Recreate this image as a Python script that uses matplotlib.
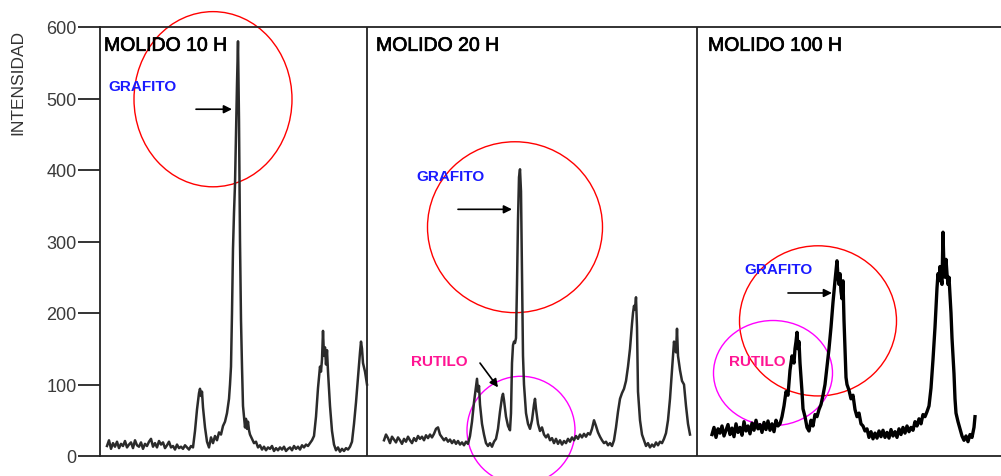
import matplotlib.pyplot as plt
from matplotlib.patches import Ellipse
import matplotlib.patheffects as pe

plt.rcParams['font.family'] = ['Liberation Sans', 'DejaVu Sans']

# diffractograms, scan position (arbitrary units along the strip) vs intensity
pos_10h = [7, 9, 11, 13, 15, 17, 19, 21, 23, 25, 27, 29, 31, 33, 35, 37, 39, 41, 43, 45,
           47, 49, 51, 53, 55, 57, 59, 61, 63, 65, 67, 69, 71, 73, 75, 77, 79, 81, 83, 85,
           87, 89, 91, 93,
           95, 97, 99, 100, 101, 102, 103, 105, 107, 109, 111, 113, 115, 117, 119, 121, 123, 125, 127, 129,
           130, 131, 132, 133, 134, 135, 136, 137, 138, 139, 140, 141, 142, 143, 144, 145, 146, 147, 148, 149, 150,
           152, 154, 156, 158, 160, 162, 164, 166, 168, 170, 172, 174, 176, 178, 180, 182, 184, 186, 188, 190,
           192, 194, 196, 198, 200, 202, 204, 206, 208, 210, 212,
           214, 216, 218, 220, 221, 222, 223, 224, 225, 226, 227, 228, 229, 230, 232, 234, 236, 238, 240, 242,
           244, 246, 248, 250, 252, 254, 256, 258, 260, 261, 262, 263, 265, 267]
int_10h = [14, 22, 10, 18, 13, 20, 11, 17, 14, 21, 12, 16, 19, 11, 22, 15, 13, 19, 10, 17,
           14, 20, 24, 13, 18, 12, 21, 16, 19, 11, 15, 20, 12, 14, 9, 16, 11, 13, 10, 15,
           12, 9, 14, 12,
           35, 65, 88, 94, 84, 90, 68, 40, 20, 12, 26, 18, 28, 22, 33, 30, 42, 48, 60, 80,
           100, 125, 200, 290, 340, 380, 450, 520, 580, 470, 300, 190, 125, 70, 55, 40, 52, 38, 48, 36, 30,
           24, 18, 20, 12, 15, 9, 13, 8, 12, 10, 14, 7, 11, 8, 12, 9, 13, 7, 10, 12,
           8, 14, 10, 13, 9, 15, 12, 16, 14, 18, 22,
           28, 55, 95, 125, 118, 135, 175, 140, 152, 128, 148, 118, 95, 70, 35, 16, 8, 12, 6, 10,
           7, 11, 9, 13, 20, 45, 75, 110, 145, 160, 150, 130, 118, 100]

pos_20h = [284, 286, 288, 290, 292, 294, 296, 298, 300, 302, 304, 306, 308, 310, 312, 314, 316, 318, 320, 322,
           324, 326, 328, 330, 332, 334, 336, 338, 340, 342, 344, 346, 348, 350, 352, 354, 356, 358, 360, 362,
           364, 366, 368,
           370, 372, 374, 376, 377, 378, 379, 380, 382, 384, 386, 388, 390, 392, 394, 396, 398, 400, 402, 403,
           404, 406, 408, 410, 411, 412, 413, 414, 415, 416, 417, 418, 419, 420, 421, 422, 423, 424, 426, 428,
           430, 432, 434, 435, 436, 438, 440,
           442, 444, 446, 448, 450, 452, 454, 456, 458, 460, 462, 464, 466, 468, 470, 472, 474, 476, 478, 480,
           482, 484, 486, 488, 490, 492, 494, 496, 498, 500, 502, 504, 506, 508, 510, 512,
           514, 516, 518, 520, 522, 524, 526, 528, 530, 532, 533, 534, 535, 536, 537, 538, 540, 542, 544, 546,
           548, 550, 552, 554, 556, 558, 560, 562, 564, 566, 568, 570, 572, 573, 574, 575, 576, 577, 578, 579,
           580, 582, 584, 586, 588, 590]
int_20h = [22, 30, 25, 18, 27, 23, 19, 26, 22, 17, 24, 20, 27, 22, 18, 25, 21, 28, 24, 27,
           22, 29, 25, 30, 26, 31, 38, 40, 30, 26, 22, 25, 20, 23, 18, 22, 17, 21, 16, 19,
           15, 20, 17,
           28, 48, 75, 97, 108, 90, 98, 72, 45, 30, 18, 14, 18, 13, 20, 24, 38, 62, 82, 87,
           78, 55, 42, 36, 60, 130, 155, 160, 158, 165, 240, 330, 390, 401, 370, 250, 140, 100, 60, 45,
           38, 50, 72, 80, 66, 45, 35,
           40, 30, 26, 30, 22, 25, 18, 24, 17, 22, 16, 21, 18, 24, 20, 26, 22, 28, 24, 30,
           26, 31, 27, 32, 30, 38, 50, 42, 33, 27, 22, 18, 20, 15, 18, 14,
           22, 40, 62, 80, 88, 94, 105, 125, 150, 185, 200, 210, 205, 222, 180, 90, 50, 30, 22, 14,
           18, 12, 16, 13, 19, 15, 20, 18, 24, 32, 50, 80, 120, 140, 160, 150, 145, 178, 140, 130,
           120, 105, 100, 70, 45, 30]

pos_100h = [612, 614, 616, 618, 620, 622, 624, 626, 628, 630, 632, 634, 636, 638, 640, 642, 644, 646, 648, 650,
            652, 654, 656, 658, 660, 662, 664, 666, 668, 670, 672, 674, 676, 678, 680,
            682, 684, 686, 688, 690, 692, 694, 695, 696, 697, 698, 699, 700, 701, 702, 703, 705, 707, 709, 711,
            713, 715, 717, 719, 721, 723, 725, 727, 729, 731, 733, 735, 737, 738, 739, 740, 741, 742, 743, 744,
            745, 746, 747, 749, 751, 753, 755, 757, 759, 761, 763, 765, 767,
            769, 771, 773, 775, 777, 779, 781, 783, 785, 787, 789, 791, 793, 795, 797, 799, 801, 803, 805, 807,
            809, 811, 813, 815, 817, 819, 821, 823, 825, 827,
            829, 831, 833, 835, 837, 838, 839, 840, 841, 842, 843, 844, 845, 846, 847, 848, 849, 850, 851, 852,
            853, 854, 855, 856, 858, 860, 862, 864, 866, 868, 870, 872, 874, 875]
int_100h = [30, 40, 26, 38, 32, 42, 28, 36, 44, 30, 39, 27, 45, 33, 40, 29, 48, 35, 42, 31,
            46, 36, 50, 38, 44, 33, 47, 37, 49, 36, 45, 34, 50, 42, 45,
            55, 70, 90, 85, 120, 140, 130, 150, 160, 173, 150, 160, 130, 110, 90, 66, 55, 40, 35, 50,
            42, 58, 55, 65, 72, 85, 100, 125, 150, 180, 215, 245, 273, 250, 240, 255, 230, 220, 245, 190,
            150, 110, 100, 92, 80, 85, 65, 55, 60, 45, 42, 35, 38,
            26, 34, 24, 32, 25, 35, 27, 36, 26, 33, 25, 37, 28, 34, 26, 38, 30, 40, 32, 42,
            34, 40, 36, 48, 42, 52, 45, 58, 55, 62,
            70, 95, 135, 180, 235, 255, 245, 265, 250, 240, 313, 260, 250, 275, 255, 240, 250, 225, 200, 165,
            140, 115, 80, 60, 48, 38, 28, 22, 28, 20, 30, 26, 40, 55]

panel_titles = ["MOLIDO 10 H", "MOLIDO 20 H", "MOLIDO 100 H"]
panel_edges = [267, 597]

fig = plt.figure(figsize=(10.01, 4.77), dpi=100)
ax = fig.add_axes([100 / 1001, 20 / 477, 901 / 1001, 429 / 477])
ax.set_xlim(0, 901)
ax.set_ylim(0, 600)
ax.spines['right'].set_visible(False)
for s in ['left', 'top', 'bottom']:
    ax.spines[s].set_linewidth(1.3)
    ax.spines[s].set_color('#222222')
ax.set_xticks([])
ax.set_yticks(range(0, 601, 100))
ax.tick_params(axis='y', length=15.8, width=1.4, pad=1, labelsize=13,
               color='#333333', labelcolor='#3a3a3a')

for xe in panel_edges:
    ax.axvline(xe, color='#222222', lw=1.3)

ax.plot(pos_10h, int_10h, color='#2b2b2b', lw=1.8)
ax.plot(pos_20h, int_20h, color='#2b2b2b', lw=1.8)
ax.plot(pos_100h, int_100h, color='black', lw=2.4)

# slightly heavier strokes for the panel headings
heavy = [pe.withStroke(linewidth=0.5, foreground='black')]
for xt, title in zip([4, 276, 608], panel_titles):
    ax.text(xt, 573, title, fontsize=14, va='center', ha='left', color='black',
            path_effects=heavy)

# phase labels
for xt, yt in [(8, 517), (316, 392), (644, 262)]:
    ax.text(xt, yt, "GRAFITO", fontsize=11, fontweight='bold', color='#1a1aff', va='center')
for xt, yt in [(311, 133), (629, 133)]:
    ax.text(xt, yt, "RUTILO", fontsize=11, fontweight='bold', color='#ff1493', va='center')

arrows = [((96, 485), (132, 485)), ((358, 345), (412, 345)),
          ((380, 130), (398, 96)), ((688, 228), (732, 228))]
for tail, tip in arrows:
    ax.annotate('', xy=tip, xytext=tail,
                arrowprops=dict(arrowstyle='-|>', color='black', lw=1.2, mutation_scale=12,
                                shrinkA=0, shrinkB=0))

# circles marking the reflections
circles = [((113, 499), 158, 245, 'red'), ((415, 320), 175, 239, 'red'),
           ((421, 36), 108, 151, '#ff00ff'), ((718, 189), 157, 210, 'red'),
           ((673, 116), 119, 147, '#ff00ff')]
for c, w, h, col in circles:
    ax.add_patch(Ellipse(c, w, h, fill=False, ec=col, lw=1.0, clip_on=False))

fig.text(18 / 1001, 1 - 82 / 477, "INTENSIDAD", rotation=90, ha='center', va='center',
         fontsize=12.5, color='#333333')

fig.savefig('out.png', dpi=100)
